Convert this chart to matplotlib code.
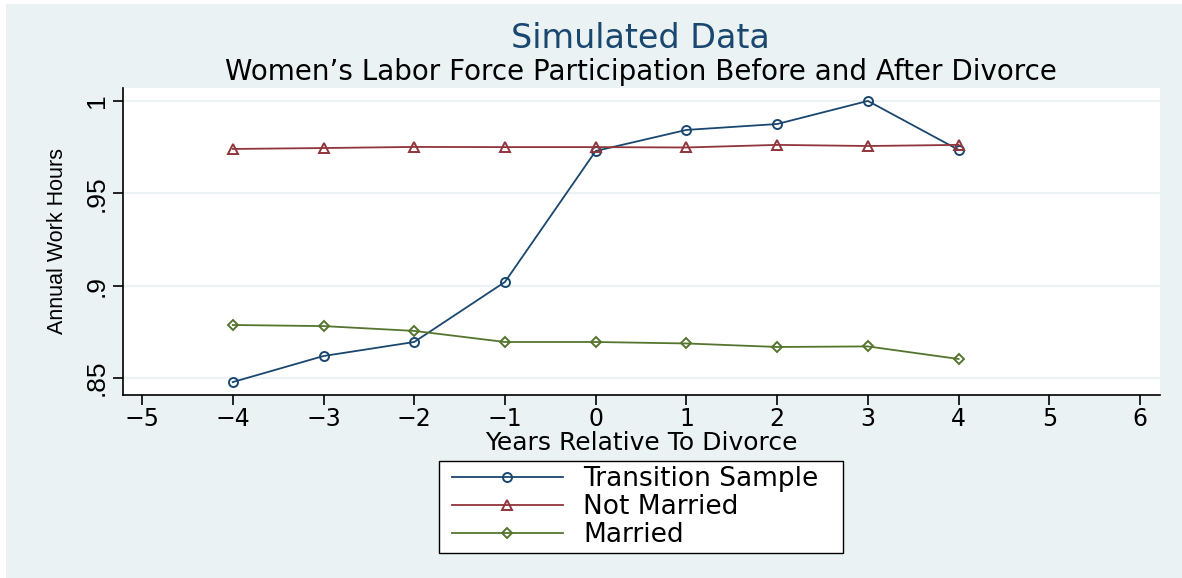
import numpy as np
import matplotlib
matplotlib.use("Agg")
import matplotlib.pyplot as plt
from matplotlib.patches import Rectangle
from matplotlib.ticker import FuncFormatter

# data
years = [-4, -3, -2, -1, 0, 1, 2, 3, 4]
transition = [0.8478, 0.8619, 0.8695, 0.9020, 0.9729, 0.9843, 0.9875, 1.0000, 0.9735]
not_married = [0.9740, 0.9745, 0.9751, 0.9750, 0.9750, 0.9748, 0.9762, 0.9756, 0.9762]
married = [0.8787, 0.8781, 0.8755, 0.8695, 0.8695, 0.8687, 0.8668, 0.8671, 0.8603]

xticks = list(range(-5, 7))
yticks = [0.85, 0.9, 0.95, 1.0]

navy = "#1A476F"
maroon = "#90353B"
green = "#55752F"
bg = "#EAF2F3"

wide = ["DejaVu Sans"]
narrow = ["Liberation Sans Narrow", "Liberation Sans", "DejaVu Sans"]
plt.rcParams["font.family"] = wide

W, H = 1182, 578
fig = plt.figure(figsize=(W / 100, H / 100), dpi=100, facecolor="white")
# stata graph region (white strip left / top in the reference)
fig.patches.append(Rectangle((6 / W, 0), 1, 1 - 4 / H, transform=fig.transFigure,
                             facecolor=bg, edgecolor="none", zorder=-5))
# legend box, drawn by hand so the padding matches stata
fig.patches.append(Rectangle((439 / W, 1 - 553 / H), (843 - 439) / W, (553 - 461) / H,
                             transform=fig.transFigure, facecolor="white",
                             edgecolor="black", lw=1.0, zorder=-4))

ax = fig.add_axes([123 / W, 1 - 395 / H, (1160 - 123) / W, (395 - 88) / H])
ax.set_facecolor("white")

lw = 1.3
ms = 6.5
mew = 1.4
ax.plot(years, transition, "-o", color=navy, lw=lw, ms=ms, mfc="none", mew=mew,
        label="Transition Sample", zorder=3)
ax.plot(years, not_married, "-^", color=maroon, lw=lw, ms=ms, mfc="none", mew=mew,
        label="Not Married", zorder=3)
ax.plot(years, married, "-D", color=green, lw=lw, ms=ms - 1, mfc="none", mew=mew,
        label="Married", zorder=3)

ax.set_xlim(-5.21, 6.22)
ax.set_ylim(0.8408, 1.007)
ax.set_xticks(xticks)
ax.set_yticks(yticks)
ax.xaxis.set_major_formatter(FuncFormatter(lambda v, p: "%d" % v if v >= 0 else "\u2212%d" % -v))
ax.yaxis.set_major_formatter(FuncFormatter(lambda v, p: "1" if v == 1 else ("%g" % v).lstrip("0")))
ax.grid(axis="y", color=bg, lw=1.5, zorder=1)
for s in ["top", "right"]:
    ax.spines[s].set_visible(False)
for s in ["left", "bottom"]:
    ax.spines[s].set_linewidth(1.2)
ax.tick_params(direction="out", length=7, width=1.2)
ax.tick_params(axis="x", labelsize=17, pad=2)
ax.tick_params(axis="y", labelsize=19, pad=3)
for t in ax.get_yticklabels():
    t.set_rotation(90)
    t.set_va("center")
    t.set_family(narrow)

ax.set_xlabel("Years Relative To Divorce", fontsize=18, labelpad=0)
ax.set_ylabel("Annual Work Hours", fontsize=15.5, labelpad=12, family=narrow)

fig.text(0.542, 1 - 39 / H, "Simulated Data", ha="center", va="center",
         fontsize=24, color=navy)
fig.text(0.542, 1 - 72 / H, "Women\u2019s Labor Force Participation Before and After Divorce",
         ha="center", va="center", fontsize=20, color="black")

leg = fig.legend(loc="center left", bbox_to_anchor=(452 / W, 1 - 507 / H),
                 fontsize=19, frameon=False, handlelength=4.2, handletextpad=0.78,
                 labelspacing=0.08, borderpad=0, borderaxespad=0)

fig.savefig("out.png", dpi=100, facecolor="white")
